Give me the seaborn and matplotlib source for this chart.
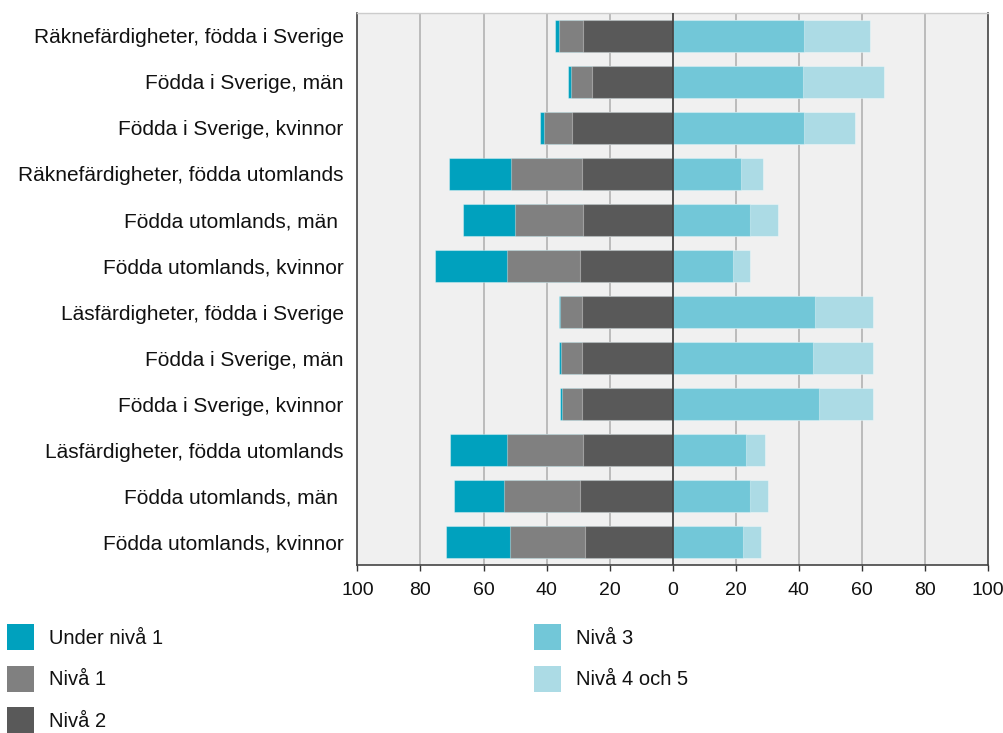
import pandas as pd
import matplotlib.pyplot as plt
import seaborn as sns
from matplotlib.patches import Patch

# Rader i diagrammet (uppifrån och ned)
rader = ['Räknefärdigheter, födda i Sverige', 'Födda i Sverige, män', 'Födda i Sverige, kvinnor',
         'Räknefärdigheter, födda utomlands', 'Födda utomlands, män ', 'Födda utomlands, kvinnor',
         'Läsfärdigheter, födda i Sverige', 'Födda i Sverige, män', 'Födda i Sverige, kvinnor',
         'Läsfärdigheter, födda utomlands', 'Födda utomlands, män ', 'Födda utomlands, kvinnor']

under_niva1 = [1.2, 0.9, 1.4, 19.8, 16.5, 22.7, 0.6, 0.7, 0.5, 18.2, 15.9, 20.3]
niva1 = [7.6, 6.7, 8.9, 22.5, 21.7, 23.3, 6.7, 6.6, 6.3, 23.9, 24.2, 23.9]
niva2 = [28.6, 25.5, 31.8, 28.7, 28.3, 29.3, 28.9, 28.9, 28.9, 28.6, 29.3, 27.7]
niva3 = [41.5, 41.3, 41.5, 21.6, 24.4, 19.0, 45.3, 44.4, 46.4, 23.1, 24.5, 22.2]
niva4_5 = [21.0, 25.7, 16.4, 7.1, 8.9, 5.6, 18.3, 19.1, 17.2, 6.1, 5.8, 5.9]

ticks = [-100, -80, -60, -40, -20, 0, 20, 40, 60, 80, 100]

farger = {'Under nivå 1': '#00A1BE', 'Nivå 1': '#808080', 'Nivå 2': '#595959',
          'Nivå 3': '#72C7D8', 'Nivå 4 och 5': '#ACDBE5'}

df = pd.DataFrame({'rad': [f'r{i}' for i in range(len(rader))],
                   'u1': under_niva1, 'n1': niva1, 'n2': niva2, 'n3': niva3, 'n45': niva4_5})
# Kumulativa värden för diverging stacked bars
df['v_u1'] = -(df['n2'] + df['n1'] + df['u1'])
df['v_n1'] = -(df['n2'] + df['n1'])
df['v_n2'] = -df['n2']
df['h_n45'] = df['n3'] + df['n45']
df['h_n3'] = df['n3']

plt.rcParams['font.family'] = ['Liberation Sans', 'DejaVu Sans']
fig = plt.figure(figsize=(10.04, 7.33), dpi=100)
ax = fig.add_axes([0.356, 0.2288, 0.628, 0.7539])
ax.set_facecolor('#F0F0F0')

lager = [('v_u1', 'Under nivå 1'), ('v_n1', 'Nivå 1'), ('v_n2', 'Nivå 2'),
         ('h_n45', 'Nivå 4 och 5'), ('h_n3', 'Nivå 3')]
for kol, namn in lager:
    sns.barplot(data=df, x=kol, y='rad', order=df['rad'], orient='h', color=farger[namn],
                saturation=1, errorbar=None, width=0.7, edgecolor=(1, 1, 1, 0.35),
                linewidth=0.8, ax=ax, zorder=3)

ax.set_xlim(-100, 100)
ax.set_ylim(11.5, -0.5)
ax.set_xticks(ticks)
ax.set_xticklabels([str(abs(t)) for t in ticks])
ax.set_yticks(range(len(rader)))
ax.set_yticklabels(rader)
ax.set_xlabel('')
ax.set_ylabel('')
ax.tick_params(axis='y', length=0, pad=10, labelsize=15, labelcolor='#111111')
ax.tick_params(axis='x', length=4, width=1, color='#333333', pad=8, labelsize=14,
               labelcolor='#111111')

for t in ticks[1:-1]:
    if t != 0:
        ax.axvline(t, color='#BBBBBB', linewidth=1.4, zorder=1)
ax.axvline(0, color='#444444', linewidth=1.3, zorder=4)

for s in ['left', 'bottom', 'right']:
    ax.spines[s].set_color('#444444')
    ax.spines[s].set_linewidth(1.2)
ax.spines['top'].set_color('#CCCCCC')
ax.spines['top'].set_linewidth(1)

def handtag(namn):
    return Patch(facecolor=farger[namn], edgecolor='none', label=namn)

legend_kw = dict(frameon=False, fontsize=14.5, handlelength=1.34, handleheight=1.61,
                 handletextpad=0.76, labelspacing=0.78, borderaxespad=0, borderpad=0,
                 labelcolor='#111111')
fig.legend(handles=[handtag(n) for n in ['Under nivå 1', 'Nivå 1', 'Nivå 2']],
           loc='upper left', bbox_to_anchor=(7 / 1004, 1 - 624 / 733), **legend_kw)
fig.legend(handles=[handtag(n) for n in ['Nivå 3', 'Nivå 4 och 5']],
           loc='upper left', bbox_to_anchor=(534 / 1004, 1 - 624 / 733), **legend_kw)

fig.savefig('out.png', dpi=100)
